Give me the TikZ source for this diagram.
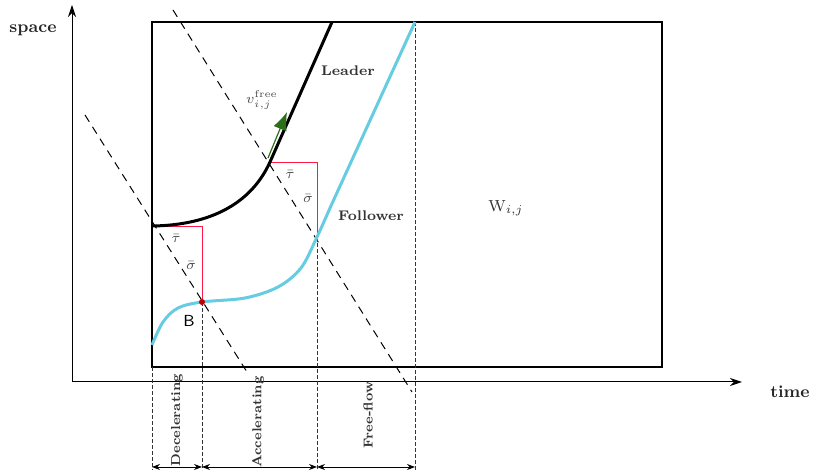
\documentclass[tikz,border=0pt]{standalone}
\usetikzlibrary{arrows.meta}
\begin{document}
\begin{tikzpicture}[x=0.5pt,y=-0.5pt,
  axis/.style={line width=0.5pt,-{Stealth[length=6pt,width=4pt]}},
  vdash/.style={dashed,line width=0.35pt,dash pattern=on 2pt off 1pt,draw=black!80},
  ddash/.style={dashed,line width=0.5pt,dash pattern=on 4pt off 3pt},
  redl/.style={draw=red!80!magenta!90!white,line width=0.5pt},
  span/.style={line width=0.4pt,{Stealth[length=4pt,width=3pt]}-{Stealth[length=4pt,width=3pt]}},
  lbl/.style={text=black!70,font=\fontsize{7}{8}\selectfont},
  bold/.style={font=\fontsize{7}{8}\selectfont\bfseries,text=black!80},
  rot/.style={rotate=90,font=\fontsize{6.5}{8}\selectfont\bfseries,text=black!80}]
\useasboundingbox (0,0) rectangle (816,475);
\definecolor{cyanc}{RGB}{102,204,226}
\definecolor{greenc}{RGB}{45,110,25}
% axes
\coordinate (O) at (72,382);
\coordinate (Ytop) at (72,5);
\coordinate (Xend) at (742,382);
\draw[axis] (O) -- (Ytop);
\draw[axis] (O) -- (Xend);
\node[font=\fontsize{8.5}{10}\selectfont\bfseries,text=black!85] (space) at (33,30) {space};
\node[font=\fontsize{8.5}{10}\selectfont\bfseries,text=black!85] (time) at (790,392) {time};
% rectangle
\draw[line width=1pt] (152,22) rectangle (662,367);
% dashed diagonals
\coordinate (d1a) at (85,115);
\coordinate (d1b) at (247,372);
\coordinate (d2a) at (173,10);
\coordinate (d2b) at (412,392);
\draw[ddash] (d1a) -- (d1b);
\draw[ddash] (d2a) -- (d2b);
% vertical dashed lines
\coordinate (v1t) at (152,367); \coordinate (v1b) at (152,470);
\coordinate (v2t) at (202,302); \coordinate (v2b) at (202,470);
\coordinate (v3t) at (317,237); \coordinate (v3b) at (317,470);
\coordinate (v4t) at (415,22);  \coordinate (v4b) at (415,470);
\draw[vdash] (v1t) -- (v1b);
\draw[vdash] (v2t) -- (v2b);
\draw[vdash] (v3t) -- (v3b);
\draw[vdash] (v4t) -- (v4b);
% span arrows
\coordinate (s1) at (152,467); \coordinate (s2) at (202,467);
\coordinate (s3) at (317,467); \coordinate (s4) at (415,467);
\draw[span] (s1) -- (s2);
\draw[span] (s2) -- (s3);
\draw[span] (s3) -- (s4);
\node[rot] (dec) at (177,420) {Decelerating};
\node[rot] (acc) at (258,422) {Accelerating};
\node[rot] (ff) at (368,415) {Free-flow};
% red lines
\draw[redl] (153,227) -- (202,227) -- (202,302);
\draw[redl] (268,163) -- (317,163) -- (317,237);
% leader curve
\draw[line width=1.5pt] (153,226) .. controls (210,225) and (251,204) .. (270,162) -- (332,22);
% follower curve
\draw[cyanc,line width=1.5pt] plot[smooth,tension=0.55] coordinates
  {(152,345) (163,322) (178,308) (202,302) (245,298) (278,287) (301,268) (317,237) (330,208)}
  -- (415,22);
% point B
\fill[red!75!black] (202,302) circle (1.5pt);
\node[font=\sffamily\fontsize{8}{9}\selectfont] (B) at (189,321) {B};
% green arrow
\coordinate (ga) at (268,158);
\coordinate (gb) at (287,112);
\draw[greenc,line width=0.6pt,-{Latex[length=9pt,width=7pt]}] (ga) -- (gb);
\node[lbl] (v) at (262,100) {$v_{i,j}^{\mathrm{free}}$};
% labels
\node[lbl] (t1) at (176,238) {$\bar\tau$};
\node[lbl] (s1l) at (191,265) {$\bar\sigma$};
\node[lbl] (t2) at (290,174) {$\bar\tau$};
\node[lbl] (s2l) at (308,198) {$\bar\sigma$};
\node[bold] (lead) at (348,71) {Leader};
\node[bold] (fol) at (371,216) {Follower};
\node[font=\fontsize{8}{9}\selectfont,text=black!80] (W) at (506,208) {$\mathrm{W}_{i,j}$};
\end{tikzpicture}
\end{document}
